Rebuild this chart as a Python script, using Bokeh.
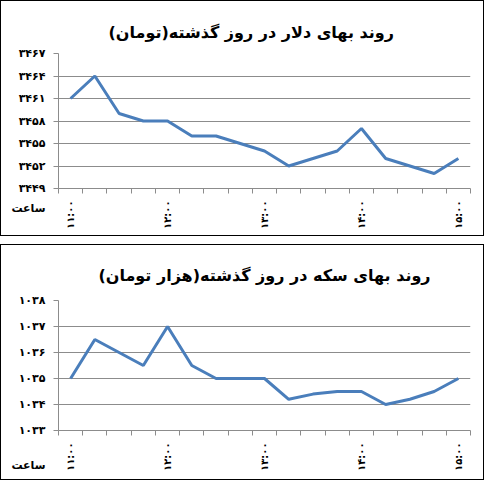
import math
from bokeh.plotting import figure
from bokeh.models import FixedTicker, Range1d, Title
from bokeh.layouts import column
from bokeh.embed import file_html
from bokeh.resources import INLINE

# ---- data ----
points = list(range(17))  # observation index through the day
usd_prices = [3461, 3464, 3459, 3458, 3458, 3456, 3456, 3455, 3454,
              3452, 3453, 3454, 3457, 3453, 3452, 3451, 3453]
coin_prices = [1035, 1036.5, 1036, 1035.5, 1037, 1035.5, 1035, 1035, 1035,
               1034.2, 1034.4, 1034.5, 1034.5, 1034, 1034.2, 1034.5, 1035]
x_label_points = [0, 4, 8, 12, 16]
x_labels = ["۱۱:۰۰", "۱۲:۰۰", "۱۳:۰۰", "۱۴:۰۰", "۱۵:۰۰"]
usd_ticks = [3449, 3452, 3455, 3458, 3461, 3464, 3467]
usd_tick_labels = ["۳۴۴۹", "۳۴۵۲", "۳۴۵۵", "۳۴۵۸", "۳۴۶۱", "۳۴۶۴", "۳۴۶۷"]
coin_ticks = [1033, 1034, 1035, 1036, 1037, 1038]
coin_tick_labels = ["۱۰۳۳", "۱۰۳۴", "۱۰۳۵", "۱۰۳۶", "۱۰۳۷", "۱۰۳۸"]
usd_title = "روند بهای دلار در روز گذشته(تومان)"
coin_title = "روند بهای سکه در روز گذشته(هزار تومان)"
x_name = "ساعت"

FONT = "DejaVu Sans"
LINE = "#4A7EBB"
GRID = "#8C8C8C"
NB = "\u00a0"


def make_chart(values, ticks, tick_labels, title, borders, title_align, title_offset,
               title_standoff, name_gap_lines, label_line_height):
    left, right, top, bottom = borders
    n = len(values)
    p = figure(width=484, height=236, output_backend="svg", toolbar_location=None,
               x_range=Range1d(-0.5, n - 0.5), y_range=Range1d(ticks[0], ticks[-1]),
               min_border_left=left, min_border_right=right,
               min_border_top=top, min_border_bottom=bottom,
               styles={"border": "1px solid black", "box-sizing": "border-box"})
    p.outline_line_color = None
    p.background_fill_color = "white"
    p.border_fill_color = "white"
    p.line(points, values, line_color=LINE, line_width=3)

    p.xgrid.visible = False
    p.ygrid.ticker = FixedTicker(ticks=ticks)
    p.ygrid.grid_line_color = GRID
    p.ygrid.grid_line_width = 1

    # the "hour" caption sits under the lowest y tick label, in the axis margin
    overrides = dict(zip(ticks, tick_labels))
    lines = [NB] * name_gap_lines + [tick_labels[0]] + [NB] * (name_gap_lines - 1) + [x_name]
    overrides[ticks[0]] = "\n".join(lines)

    ya = p.yaxis[0]
    ya.ticker = FixedTicker(ticks=ticks)
    ya.major_label_overrides = overrides
    ya.axis_line_color = GRID
    ya.major_tick_line_color = GRID
    ya.major_tick_out = 5
    ya.major_tick_in = 0
    ya.minor_tick_line_color = None
    ya.major_label_standoff = 8
    ya.major_label_text_font = FONT
    ya.major_label_text_font_size = "11px"
    ya.major_label_text_font_style = "bold"
    ya.major_label_text_color = "black"
    ya.major_label_text_line_height = label_line_height

    xa = p.xaxis[0]
    xa.ticker = FixedTicker(ticks=x_label_points,
                            minor_ticks=[i - 0.5 for i in range(n + 1)])
    xa.major_label_overrides = dict(zip(x_label_points, x_labels))
    xa.axis_line_color = GRID
    xa.major_tick_line_color = None
    xa.major_tick_out = 0
    xa.major_tick_in = 0
    xa.minor_tick_line_color = GRID
    xa.minor_tick_out = 5
    xa.minor_tick_in = 0
    xa.major_label_orientation = math.pi / 2
    xa.major_label_standoff = 7
    xa.major_label_text_font = FONT
    xa.major_label_text_font_size = "10px"
    xa.major_label_text_font_style = "bold"
    xa.major_label_text_color = "black"

    p.add_layout(Title(text=title, align=title_align, offset=title_offset, text_font=FONT,
                       text_font_size="16px", text_font_style="bold",
                       text_color="black", standoff=title_standoff), "above")
    return p


p1 = make_chart(usd_prices, usd_ticks, usd_tick_labels, usd_title,
                (57, 10, 52, 49), "left", 50, 24, 1, 1.5)
p2 = make_chart(coin_prices, coin_ticks, coin_tick_labels, coin_title,
                (51, 15, 55, 51), "center", 0, 32, 2, 1.35)

layout = column(p1, p2, spacing=8)
open("out.html", "w").write(file_html(layout, INLINE))
